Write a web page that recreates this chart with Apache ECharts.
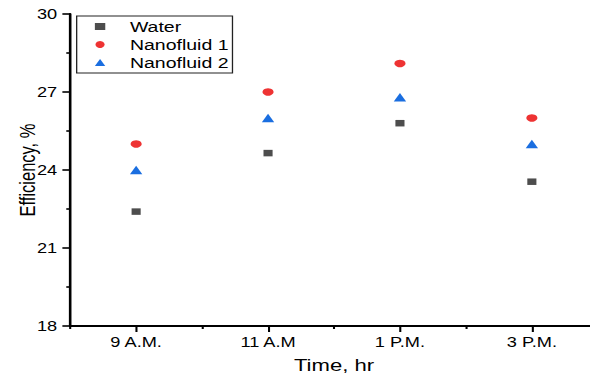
<!DOCTYPE html>
<html><head><meta charset="utf-8">
<script src="https://cdn.jsdelivr.net/npm/echarts@6/dist/echarts.min.js"></script>
<style>
html,body{margin:0;padding:0;background:#fff;overflow:hidden}
#wrap{width:590px;height:377px;overflow:hidden;position:relative}
#c{width:454px;height:377px;transform:scaleX(1.2996);transform-origin:0 0}
</style></head>
<body><div id="wrap"><div id="c"></div></div>
<script>
const categories = ['9 A.M.', '11 A.M', '1 P.M.', '3 P.M.'];
const water = [22.4, 24.65, 25.8, 23.55];
const nanofluid1 = [25.0, 27.0, 28.1, 26.0];
const nanofluid2 = [24.0, 26.0, 26.8, 25.0];
const seriesNames = ['Water', 'Nanofluid 1', 'Nanofluid 2'];
const yMin = 18, yMax = 30, yStep = 3;

const FONT = 'Liberation Sans, Arial, Helvetica, sans-serif';
const chart = echarts.init(document.getElementById('c'), null, {renderer: 'svg'});
chart.setOption({
  animation: false,
  backgroundColor: '#fff',
  grid: {left: 54, right: -6, top: 14, bottom: 51, containLabel: false, outerBoundsMode: 'none'},
  legend: {
    orient: 'vertical', left: 59, top: 16,
    padding: [3, 3, 3, 14],
    itemWidth: 8, itemHeight: 7, itemGap: 3,
    borderColor: '#222', borderWidth: 1, backgroundColor: '#fff',
    textStyle: {fontFamily: FONT, fontSize: 15, color: '#000', lineHeight: 15, padding: [0, 0, 0, 14]},
    data: seriesNames
  },
  xAxis: [{
    type: 'category', data: categories, position: 'bottom',
    axisLine: {show: true, lineStyle: {color: '#000', width: 2}},
    axisTick: {show: true, alignWithLabel: true, length: 6, lineStyle: {color: '#000', width: 1.6}},
    axisLabel: {fontFamily: FONT, fontSize: 14, color: '#000', margin: 9},
    splitLine: {show: false},
    name: 'Time, hr', nameLocation: 'middle', nameGap: 30, nameMoveOverlap: false,
    nameTextStyle: {fontFamily: FONT, fontSize: 17, color: '#000'}
  }, {
    type: 'category', data: categories, position: 'bottom',
    axisLine: {show: false},
    axisTick: {show: true, length: 3, lineStyle: {color: '#000', width: 1.6}},
    axisLabel: {show: false},
    splitLine: {show: false}
  }],
  yAxis: {
    type: 'value', min: yMin, max: yMax, interval: yStep,
    axisLine: {show: true, lineStyle: {color: '#000', width: 2}},
    axisTick: {show: true, length: 6, lineStyle: {color: '#000', width: 1.6}},
    minorTick: {show: true, splitNumber: 2, length: 3, lineStyle: {color: '#000', width: 1.6}},
    axisLabel: {fontFamily: FONT, fontSize: 14, color: '#000', margin: 10},
    splitLine: {show: false},
    name: 'Efficiency, %', nameLocation: 'middle', nameGap: 24, nameMoveOverlap: false,
    nameTextStyle: {fontFamily: FONT, fontSize: 16.5, color: '#000'}
  },
  series: [
    {name: seriesNames[0], type: 'scatter', xAxisIndex: 0, data: water,
     symbol: 'rect', symbolSize: [7, 6.5], itemStyle: {color: '#4d4d4d', opacity: 1}},
    {name: seriesNames[1], type: 'scatter', xAxisIndex: 0, data: nanofluid1,
     symbol: 'circle', symbolSize: [8.5, 7.5], itemStyle: {color: '#ee3333', opacity: 1}},
    {name: seriesNames[2], type: 'scatter', xAxisIndex: 0, data: nanofluid2,
     symbol: 'triangle', symbolSize: [9.5, 8.5], itemStyle: {color: '#1a6ee0', opacity: 1}}
  ]
});
</script>
</body></html>
